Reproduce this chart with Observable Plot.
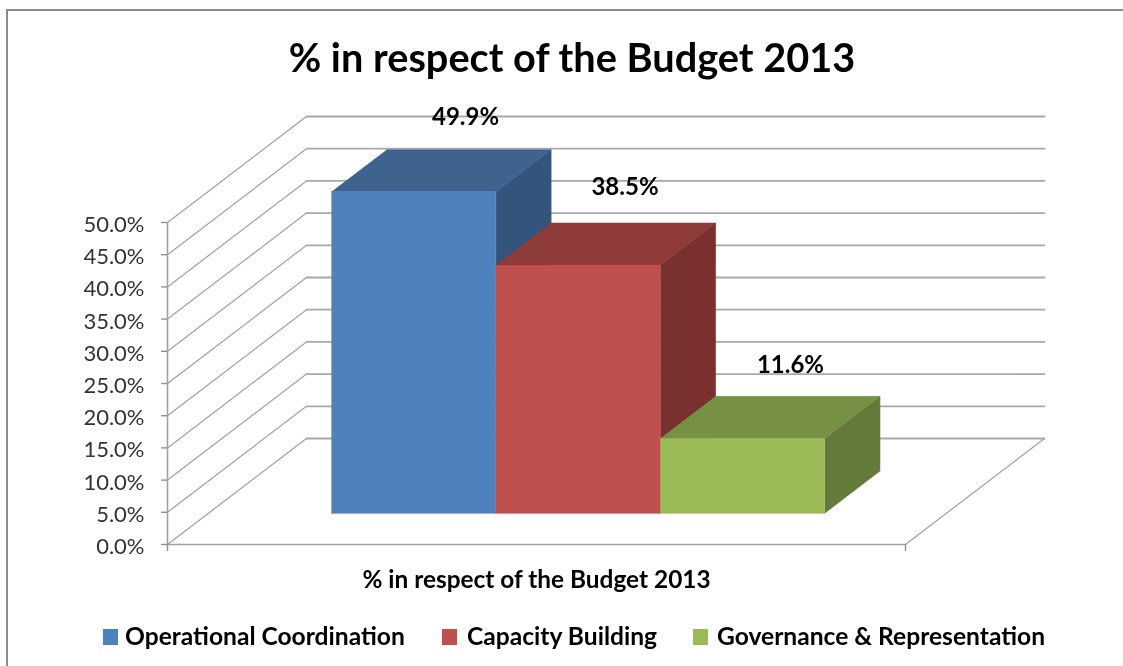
<!DOCTYPE html>
<html><head><meta charset="utf-8">
<script src="https://cdn.jsdelivr.net/npm/d3@7"></script>
<script src="https://cdn.jsdelivr.net/npm/@observablehq/plot@0.6"></script>
<style>
html,body{margin:0;padding:0;background:#fff;overflow:hidden}
#page{position:relative;width:1123px;height:666px;font-family:Lato,sans-serif;color:#000;filter:blur(0.35px)}
#frame{position:absolute;left:6px;top:9px;right:0;bottom:0;border-left:2px solid #8c8c8c;border-top:2px solid #8c8c8c}
#title{position:absolute;left:0;width:1144px;top:33px;text-align:center;font-size:39.7px;font-weight:700;line-height:48px;margin:0}
#chart{position:absolute;left:0;top:0}
.item{position:absolute;top:621px;font-size:24.6px;font-weight:700;line-height:30px;white-space:nowrap}
.sw{position:absolute;top:629px;width:15px;height:16px}
</style></head>
<body><div id="page"><div id="frame"></div><h1 id="title"></h1><div id="chart"></div></div>
<script>
const chartTitle = "% in respect of the Budget 2013";
const categories = ["Operational Coordination", "Capacity Building", "Governance & Representation"];
const values = [49.9, 38.5, 11.6];
const valueLabels = ["49.9%", "38.5%", "11.6%"];
const frontColors = ["#4f81bd", "#c0504d", "#9bbb59"];
const topColors = ["#3e638f", "#8e3b39", "#769044"];
const sideColors = ["#33557b", "#7a302e", "#647a3a"];
const yTicks = [0, 5, 10, 15, 20, 25, 30, 35, 40, 45, 50];
const legendSwatchX = [103, 442, 693];
const legendTextX = [125, 467, 717];

// 3-D projection, in data units: depth z runs 0 (front) to 1 (back)
const depthX = 0.1883, depthY = 16.46;
const barStart = 0.1665, barWidth = 0.2228, zFront = 0.295, zBack = 0.693;
const P = (x, z, v) => ({x: x + z * depthX, y: v + z * depthY});
const poly = (pts, fill) => Plot.line(pts, {x: "x", y: "y", fill, stroke: fill, strokeWidth: 0.6});

const marks = [];
// grid: side wall diagonals + back wall lines
for (const t of yTicks) {
  marks.push(Plot.line([P(0, 0, t), P(0, 1, t)], {x: "x", y: "y", stroke: "#a0a0a0", strokeWidth: 1.2}));
  marks.push(Plot.line([P(0, 1, t), P(1, 1, t)], {x: "x", y: "y", stroke: "#a8a8a8", strokeWidth: 1.8}));
}
// floor edge
marks.push(Plot.line([P(1, 0, 0), P(1, 1, 0)], {x: "x", y: "y", stroke: "#a0a0a0", strokeWidth: 1.2}));
// axes
marks.push(Plot.ruleX([0], {y1: 0, y2: 50, stroke: "#a0a0a0", strokeWidth: 1.6}));
marks.push(Plot.ruleY([0], {x1: 0, x2: 1, stroke: "#a0a0a0", strokeWidth: 1.6}));
marks.push(Plot.axisY({ticks: yTicks, tickSize: 6, stroke: "#909090", tickFormat: () => "", label: null, strokeWidth: 1.4}));
marks.push(Plot.axisY({ticks: yTicks, tickSize: 0, tickPadding: 23, fill: "#333", dy: 2.5,
  tickFormat: d => d.toFixed(1) + "%", label: null, fontSize: 22}));
marks.push(Plot.axisX({ticks: [0, 1], tickSize: 7, stroke: "#909090", tickFormat: () => "", label: null, strokeWidth: 1.4}));
// bars
values.forEach((v, i) => {
  const a = barStart + i * barWidth, b = a + barWidth;
  marks.push(poly([P(b, zFront, 0), P(b, zBack, 0), P(b, zBack, v), P(b, zFront, v)], sideColors[i]));
  marks.push(poly([P(a, zFront, v), P(b, zFront, v), P(b, zBack, v), P(a, zBack, v)], topColors[i]));
  marks.push(poly([P(a, zFront, 0), P(b, zFront, 0), P(b, zFront, v), P(a, zFront, v)], frontColors[i]));
});
// value labels
const labelDx = [52, 47, 48], labelDy = [-75, -78, -73];
values.forEach((v, i) => {
  const p = P(barStart + (i + 0.5) * barWidth, zFront, v);
  marks.push(Plot.text([valueLabels[i]], {x: () => p.x, y: () => p.y, text: d => d, dx: labelDx[i], dy: labelDy[i],
    fontSize: 24, fontWeight: 700, fill: "#000", stroke: "none"}));
});
// category label under the axis
marks.push(Plot.text([chartTitle], {x: () => 0.5, y: () => 0, text: d => d, dy: 36, fontSize: 24.4, fontWeight: 700, fill: "#000"}));

const plot = Plot.plot({
  width: 1123, height: 666,
  marginLeft: 167, marginRight: 218, marginTop: 222, marginBottom: 122,
  x: {domain: [0, 1], axis: null},
  y: {domain: [0, 50], axis: null},
  style: {fontFamily: "Lato, sans-serif", background: "transparent", overflow: "visible"},
  marks
});
document.getElementById("chart").append(plot);
document.getElementById("title").textContent = chartTitle;
const page = document.getElementById("page");
categories.forEach((c, i) => {
  const s = document.createElement("div"); s.className = "sw";
  s.style.left = legendSwatchX[i] + "px"; s.style.background = frontColors[i]; page.append(s);
  const t = document.createElement("div"); t.className = "item";
  t.style.left = legendTextX[i] + "px"; t.textContent = c; page.append(t);
});
</script></body></html>
